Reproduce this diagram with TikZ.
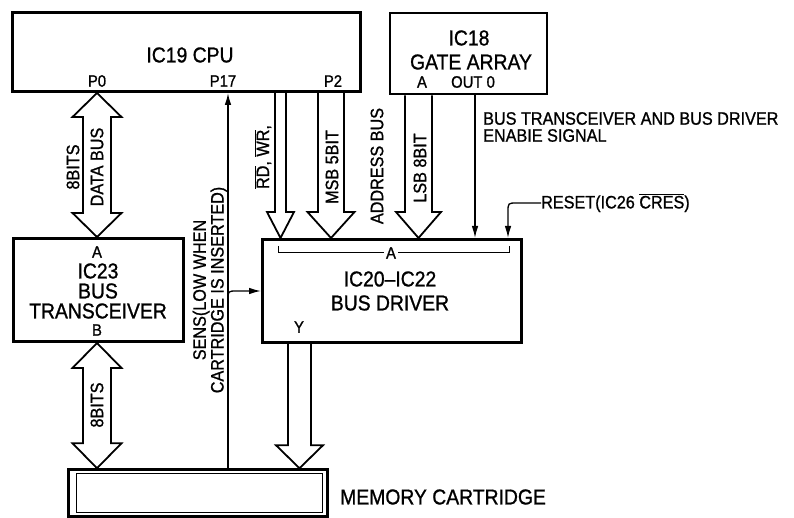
\documentclass[tikz,border=0pt]{standalone}
\usepackage{fontspec}
\setmainfont{Liberation Sans}[FakeStretch=0.9,FakeBold=1]
\usetikzlibrary{arrows.meta,calc}
\newcommand\ovl[1]{$\overline{\hbox{#1}}$}
\newcommand\fatdown[6]{%
  \draw[fat] let \p1=(#1), \p2=(#2) in
    (#3pt-#4pt,\y1) -- (#3pt-#4pt,\y2+#6pt) -- (#3pt-#5pt,\y2+#6pt) -- (#3pt,\y2)
    -- (#3pt+#5pt,\y2+#6pt) -- (#3pt+#4pt,\y2+#6pt) -- (#3pt+#4pt,\y1);}
\newcommand\fatboth[6]{%
  \draw[fat] let \p1=(#1), \p2=(#2) in
    (#3pt,\y1) -- (#3pt+#5pt,\y1-#6pt) -- (#3pt+#4pt,\y1-#6pt) -- (#3pt+#4pt,\y2+#6pt)
    -- (#3pt+#5pt,\y2+#6pt) -- (#3pt,\y2) -- (#3pt-#5pt,\y2+#6pt) -- (#3pt-#4pt,\y2+#6pt)
    -- (#3pt-#4pt,\y1-#6pt) -- (#3pt-#5pt,\y1-#6pt) -- cycle;}
\begin{document}
\begin{tikzpicture}[x=1pt,y=-1pt,
  box/.style={draw,line width=3pt,inner sep=0pt},
  big/.style={font=\fontsize{21.5}{21}\selectfont,inner sep=0pt},
  small/.style={font=\fontsize{18}{17}\selectfont,inner sep=0pt},
  pin/.style={font=\fontsize{16.5}{16}\selectfont,inner sep=0pt},
  fat/.style={line width=1.8pt,line join=miter},
  arr/.style={line width=1.3pt,-{Latex[length=12pt,width=6.5pt]}}]
\useasboundingbox (0,0) rectangle (794,518);
% boxes
\node[box,minimum width=348pt,minimum height=79pt] (cpu) at (186,52) {};
\node[box,line width=2pt,minimum width=157pt,minimum height=81pt] (ga) at (468.5,54) {};
\node[box,minimum width=170pt,minimum height=103pt] (trx) at (98,290) {};
\node[box,minimum width=259pt,minimum height=103pt] (drv) at (392,291) {};
\node[draw,line width=2.5pt,inner sep=0pt,minimum width=259pt,minimum height=47pt] (mem) at (198,493) {};
\node[draw,line width=1.5pt,inner sep=0pt,minimum width=246pt,minimum height=39pt] (memin) at (199.5,493) {};
% box texts
\node[big] (cputxt) at (190,55) {IC19 CPU};
\node[pin] (p0) at (97,81) {P0};
\node[pin] (p17) at (223,81) {P17};
\node[pin] (p2) at (333,81) {P2};
\node[big] (gat1) at (469,38) {IC18};
\node[big] (gat2) at (471,62) {GATE ARRAY};
\node[pin] (gaa) at (422,82) {A};
\node[pin] (gaout) at (473,82) {OUT 0};
\node[pin] (tra) at (97,252) {A};
\node[big] (tr1) at (98,271) {IC23};
\node[big] (tr2) at (98,291) {BUS};
\node[big] (tr3) at (98,311) {TRANSCEIVER};
\node[pin] (trb) at (97,330) {B};
\node[big] (dr1) at (390,279) {IC20--IC22};
\node[big] (dr2) at (390,303) {BUS DRIVER};
\node[pin] (dry) at (299,327) {Y};
\node[big,anchor=west] (memtxt) at (340,497) {MEMORY CARTRIDGE};
% bracket A in driver
\draw[line width=1pt] (278,246) -- (278,253) -- (509,253) -- (509,246);
\node[pin,fill=white,inner xsep=2pt] (dra) at (391,253) {A};
% fat arrows
\fatboth{cpu.south}{trx.north}{97}{14}{24.5}{24}
\fatboth{trx.south}{mem.north}{97}{14}{24.5}{25}
\fatdown{cpu.south}{drv.north}{280.5}{5.5}{13.5}{26}
\fatdown{cpu.south}{drv.north}{331}{13}{23.5}{26}
\fatdown{ga.south}{drv.north}{418.5}{13.5}{22.5}{26}
\fatdown{drv.south}{mem.north}{299.5}{11.5}{23.5}{23}
% rotated labels
\node[small,rotate=90] (l8a) at (73,167) {8BITS};
\node[small,rotate=90] (ldb) at (97,167) {DATA BUS};
\node[small,rotate=90] (lrd) at (263,157) {\ovl{RD}, \ovl{WR},};
\node[small,rotate=90] (lmsb) at (332,167) {MSB 5BIT};
\node[small,rotate=90] (ladr) at (377,166) {ADDRESS BUS};
\node[small,rotate=90] (llsb) at (420,168) {LSB 8BIT};
\node[small,rotate=90] (l8b) at (97,405) {8BITS};
\node[small,rotate=90,align=center,font=\fontsize{18}{16}\selectfont] (lsens) at (210,290) {SENS(LOW WHEN\\CARTRIDGE IS INSERTED)};
% thin connectors
\coordinate (p17x) at (228,0);
\coordinate (sensy) at (0,291);
\coordinate (outx) at (475,0);
\coordinate (rstx) at (508,0);
\draw[arr] (mem.north -| p17x) -- (cpu.south -| p17x);
\draw[arr] (228,300) .. controls (228,291) .. (237,291) -- (drv.west |- sensy);
\draw[arr] (ga.south -| outx) -- (drv.north -| outx);
\node[small,anchor=west] (rst) at (541,203) {RESET(IC26 \ovl{CRES})};
\draw[arr] (rst.west) -- (517,203) .. controls (508,203) .. (508,212) -- (drv.north -| rstx);
\node[small,anchor=west,align=left] (enab) at (483,127) {BUS TRANSCEIVER AND BUS DRIVER\\ENABIE SIGNAL};
\end{tikzpicture}
\end{document}
